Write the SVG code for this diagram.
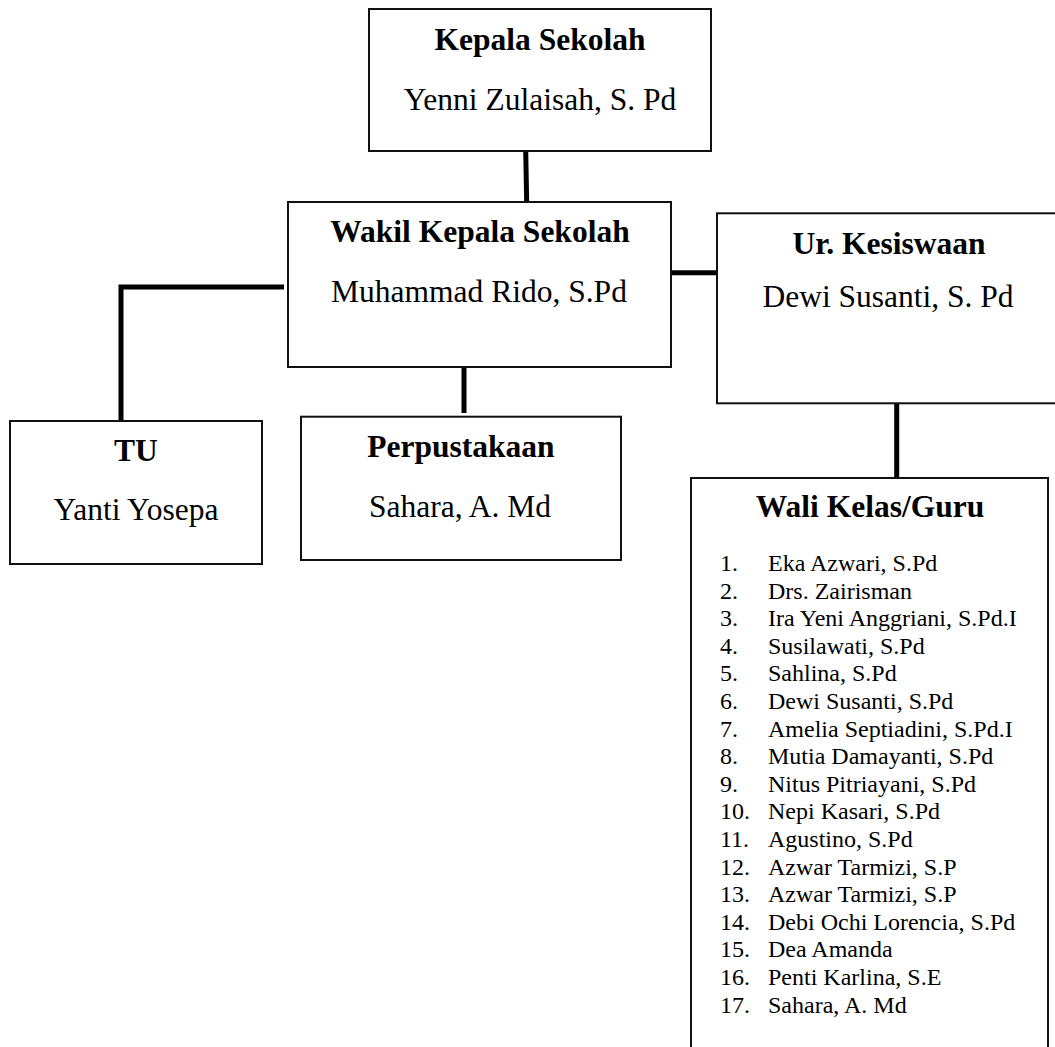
<svg xmlns="http://www.w3.org/2000/svg" width="1055" height="1047" viewBox="0 0 1055 1047">
<style>
.box{fill:#fff;stroke:#111;stroke-width:2}
.t{font-family:"Liberation Serif","Times New Roman",serif;font-size:31.5px;fill:#000;text-anchor:middle}
.b{font-weight:bold}
.li{font-family:"Liberation Serif","Times New Roman",serif;font-size:24px;fill:#000}
.con{fill:none;stroke:#000;stroke-width:5;stroke-linecap:butt;stroke-linejoin:miter}
</style>
<rect width="1055" height="1047" fill="#fff"/>
<g id="connectors">
<line class="con" x1="525.7" y1="151" x2="526.7" y2="203"/>
<polyline class="con" points="284,287 121,287 121,424"/>
<line class="con" x1="464" y1="367" x2="464" y2="413"/>
<line class="con" x1="671" y1="272.7" x2="716" y2="272.7"/>
<line class="con" x1="896.7" y1="403" x2="896.7" y2="477"/>
</g>
<g id="kepala">
<rect class="box" x="369" y="9" width="342" height="142"/>
<text class="t b" x="540" y="50">Kepala Sekolah</text>
<text class="t" x="540" y="110">Yenni Zulaisah, S. Pd</text>
</g>
<g id="wakil">
<rect class="box" x="288" y="202" width="383" height="165"/>
<text class="t b" x="480" y="242.3">Wakil Kepala Sekolah</text>
<text class="t" x="479" y="301.7">Muhammad Rido, S.Pd</text>
</g>
<g id="kesiswaan">
<rect class="box" x="717" y="213.3" width="343" height="190"/>
<text class="t b" x="889" y="254">Ur. Kesiswaan</text>
<text class="t" x="888" y="307.3">Dewi Susanti, S. Pd</text>
</g>
<g id="tu">
<rect class="box" x="10" y="421" width="252" height="143"/>
<text class="t b" x="136" y="460.7">TU</text>
<text class="t" x="136" y="520">Yanti Yosepa</text>
</g>
<g id="perpustakaan">
<rect class="box" x="301" y="416.7" width="320" height="143.3"/>
<text class="t b" x="461" y="457.3">Perpustakaan</text>
<text class="t" x="460" y="516.7">Sahara, A. Md</text>
</g>
<g id="walikelas">
<rect class="box" x="691" y="478" width="357" height="600"/>
<text class="t b" x="870" y="516.7">Wali Kelas/Guru</text>
<g class="li">
<text x="720" y="571">1.</text><text x="768" y="571">Eka Azwari, S.Pd</text>
<text x="720" y="598.6">2.</text><text x="768" y="598.6">Drs. Zairisman</text>
<text x="720" y="626.2">3.</text><text x="768" y="626.2">Ira Yeni Anggriani, S.Pd.I</text>
<text x="720" y="653.8">4.</text><text x="768" y="653.8">Susilawati, S.Pd</text>
<text x="720" y="681.4">5.</text><text x="768" y="681.4">Sahlina, S.Pd</text>
<text x="720" y="709">6.</text><text x="768" y="709">Dewi Susanti, S.Pd</text>
<text x="720" y="736.6">7.</text><text x="768" y="736.6">Amelia Septiadini, S.Pd.I</text>
<text x="720" y="764.2">8.</text><text x="768" y="764.2">Mutia Damayanti, S.Pd</text>
<text x="720" y="791.8">9.</text><text x="768" y="791.8">Nitus Pitriayani, S.Pd</text>
<text x="720" y="819.4">10.</text><text x="768" y="819.4">Nepi Kasari, S.Pd</text>
<text x="720" y="847">11.</text><text x="768" y="847">Agustino, S.Pd</text>
<text x="720" y="874.6">12.</text><text x="768" y="874.6">Azwar Tarmizi, S.P</text>
<text x="720" y="902.2">13.</text><text x="768" y="902.2">Azwar Tarmizi, S.P</text>
<text x="720" y="929.8">14.</text><text x="768" y="929.8">Debi Ochi Lorencia, S.Pd</text>
<text x="720" y="957.4">15.</text><text x="768" y="957.4">Dea Amanda</text>
<text x="720" y="985">16.</text><text x="768" y="985">Penti Karlina, S.E</text>
<text x="720" y="1012.6">17.</text><text x="768" y="1012.6">Sahara, A. Md</text>
</g>
</g>
</svg>
